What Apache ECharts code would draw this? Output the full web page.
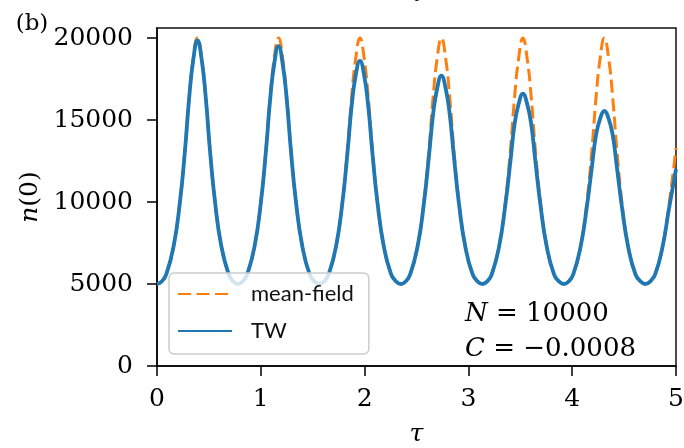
<!DOCTYPE html>
<html>
<head>
<meta charset="utf-8">
<script src="https://cdn.jsdelivr.net/npm/echarts@6/dist/echarts.min.js"></script>
<style>
  html, body { margin: 0; padding: 0; background: #fff; }
  #chart { width: 684px; height: 448px; }
</style>
</head>
<body>
<div id="chart"></div>
<script>
// Time axis samples (tau) shared by both curves
const tau = [
  0, 0.045, 0.09, 0.16, 0.22, 0.27, 0.31, 0.35, 0.39, 0.43, 0.47, 0.51, 0.56, 0.62, 0.69, 0.735, 0.78,
  0.825, 0.87, 0.94, 1.00, 1.05, 1.09, 1.13, 1.17, 1.21, 1.25, 1.29, 1.34, 1.40, 1.47, 1.52, 1.565,
  1.61, 1.655, 1.725, 1.785, 1.835, 1.875, 1.915, 1.955, 1.995, 2.035, 2.075, 2.125, 2.185, 2.255, 2.305, 2.35,
  2.395, 2.44, 2.51, 2.57, 2.62, 2.66, 2.70, 2.74, 2.78, 2.82, 2.86, 2.91, 2.97, 3.04, 3.09, 3.135,
  3.18, 3.225, 3.295, 3.355, 3.405, 3.445, 3.485, 3.525, 3.565, 3.605, 3.645, 3.695, 3.755, 3.825, 3.875, 3.92,
  3.965, 4.01, 4.08, 4.14, 4.19, 4.23, 4.27, 4.31, 4.35, 4.39, 4.43, 4.48, 4.54, 4.61, 4.66, 4.705,
  4.75, 4.80, 4.87, 4.93, 5.00
];

// n(0) from the mean-field equations
const meanField = [
  5000, 5150, 5600, 7300, 9950, 13200, 16400, 18800, 20000, 18800, 16400, 13200, 9950, 7300, 5600, 5150, 5000,
  5150, 5600, 7300, 9950, 13200, 16400, 18800, 20000, 18800, 16400, 13200, 9950, 7300, 5600, 5150, 5000,
  5150, 5600, 7300, 9950, 13200, 16400, 18800, 20000, 18800, 16400, 13200, 9950, 7300, 5600, 5150, 5000,
  5150, 5600, 7300, 9950, 13200, 16400, 18800, 20000, 18800, 16400, 13200, 9950, 7300, 5600, 5150, 5000,
  5150, 5600, 7300, 9950, 13200, 16400, 18800, 20000, 18800, 16400, 13200, 9950, 7300, 5600, 5150, 5000,
  5150, 5600, 7300, 9950, 13200, 16400, 18800, 20000, 18800, 16400, 13200, 9950, 7300, 5600, 5150, 5000,
  5150, 5600, 7300, 9700, 13300
];

// n(0) from the truncated Wigner (TW) simulation
const tw = [
  5000, 5150, 5600, 7300, 9950, 13180, 16350, 18700, 19850, 18700, 16350, 13180, 9950, 7300, 5600, 5150, 5000,
  5150, 5600, 7300, 9940, 13150, 16250, 18450, 19500, 18450, 16250, 13150, 9940, 7300, 5600, 5150, 5000,
  5150, 5600, 7290, 9900, 13000, 15850, 17750, 18600, 17750, 15850, 13000, 9900, 7290, 5600, 5150, 5000,
  5150, 5600, 7280, 9850, 12800, 15350, 16950, 17700, 16950, 15350, 12800, 9850, 7280, 5600, 5150, 5000,
  5150, 5590, 7260, 9780, 12500, 14750, 16000, 16600, 16000, 14750, 12500, 9780, 7260, 5590, 5150, 5000,
  5150, 5580, 7240, 9650, 12150, 14100, 15100, 15550, 15100, 14100, 12150, 9650, 7240, 5580, 5150, 5000,
  5150, 5600, 7250, 9500, 12000
];

const yTicks = [0, 5000, 10000, 15000, 20000];
const seriesNames = ['mean-field', 'TW'];

const serif = '"DejaVu Serif", serif';
const pair = (xs, ys) => xs.map((x, i) => [x, ys[i]]);

const chart = echarts.init(document.getElementById('chart'), null, { renderer: 'canvas' });

chart.setOption({
  backgroundColor: '#ffffff',
  animation: false,
  grid: {
    left: 157, right: 8, top: 28, bottom: 82,
    outerBoundsMode: 'none', containLabel: false,
    show: true, borderColor: '#111', borderWidth: 1.5, backgroundColor: 'transparent'
  },
  xAxis: {
    type: 'value', min: 0, max: 5, interval: 1,
    name: 'τ', nameLocation: 'middle', nameGap: 56,
    nameTextStyle: { fontFamily: serif, fontStyle: 'italic', fontSize: 25, color: '#000' },
    axisLine: { lineStyle: { color: '#000', width: 1.5 } },
    axisTick: { show: true, inside: false, length: 10, lineStyle: { color: '#000', width: 1.5 } },
    axisLabel: { fontFamily: serif, fontSize: 25, color: '#000', margin: 21 },
    splitLine: { show: false }
  },
  yAxis: {
    type: 'value', min: 0, max: 20610,
    name: '{i|n}(0)', nameLocation: 'middle', nameGap: 112, nameRotate: 90,
    nameTextStyle: {
      fontFamily: serif, fontSize: 25, color: '#000',
      rich: { i: { fontFamily: serif, fontStyle: 'italic', fontSize: 25, color: '#000' } }
    },
    axisLine: { show: true, lineStyle: { color: '#000', width: 1.5 } },
    axisTick: { show: true, inside: false, length: 10, customValues: yTicks, lineStyle: { color: '#000', width: 1.5 } },
    axisLabel: {
      fontFamily: serif, fontSize: 25, color: '#000', margin: 24, customValues: yTicks,
      formatter: (v) => String(v)
    },
    splitLine: { show: false }
  },
  legend: {
    orient: 'vertical',
    left: 169, top: 273,
    data: seriesNames,
    itemWidth: 54, itemHeight: 14, itemGap: 15,
    padding: [10, 15, 12, 8],
    backgroundColor: 'rgba(255,255,255,0.8)',
    borderColor: '#cccccc', borderWidth: 1.5, borderRadius: 5,
    itemStyle: { opacity: 0 },
    textStyle: { fontFamily: 'Lato, sans-serif', fontSize: 22, color: '#111', padding: [0, 0, 0, 14] }
  },
  series: [
    {
      name: seriesNames[0], type: 'line', data: pair(tau, meanField),
      symbol: 'none', smooth: 0.5, z: 2,
      lineStyle: { color: '#ff7f0e', width: 3, type: [13, 5.5] },
      itemStyle: { color: '#ff7f0e' }
    },
    {
      name: seriesNames[1], type: 'line', data: pair(tau, tw),
      symbol: 'none', smooth: 0.5, z: 3,
      lineStyle: { color: '#1f77b4', width: 3.8 },
      itemStyle: { color: '#1f77b4' }
    }
  ],
  graphic: [
    {
      type: 'text', x: 465, y: 314, z: 10,
      style: {
        text: '{i|N} = 10000', fill: '#000', verticalAlign: 'middle',
        font: '26px "DejaVu Serif"',
        rich: { i: { fontFamily: 'DejaVu Serif', fontStyle: 'italic', fontSize: 26, fill: '#000' } }
      }
    },
    {
      type: 'text', x: 465, y: 349, z: 10,
      style: {
        text: '{i|C} = \u22120.0008', fill: '#000', verticalAlign: 'middle',
        font: '26px "DejaVu Serif"',
        rich: { i: { fontFamily: 'DejaVu Serif', fontStyle: 'italic', fontSize: 26, fill: '#000' } }
      }
    },
    {
      type: 'text', x: 32, y: 24, z: 10,
      style: { text: '(b)', fill: '#000', align: 'center', verticalAlign: 'middle', font: '23px "DejaVu Serif"' }
    },
    {
      type: 'text', x: 416, y: -6, z: 10,
      style: { text: 'τ', fill: '#000', align: 'center', verticalAlign: 'middle', font: 'italic 25px "DejaVu Serif"' }
    }
  ]
});
</script>
</body>
</html>
